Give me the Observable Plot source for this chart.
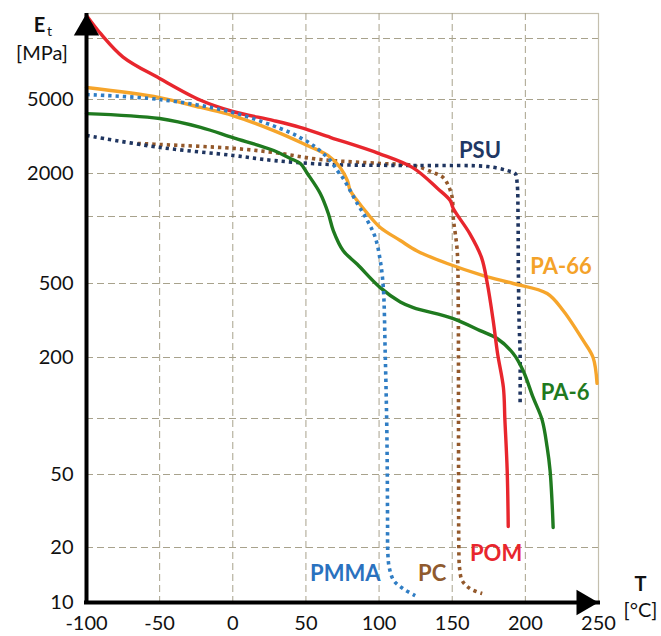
<!DOCTYPE html>
<html><head><meta charset="utf-8">
<script src="https://cdn.jsdelivr.net/npm/d3@7"></script>
<script src="https://cdn.jsdelivr.net/npm/@observablehq/plot@0.6"></script>
<style>body{margin:0;background:#fff} svg{display:block}</style>
</head><body><div id="chart"></div>
<script>
// Temperature (°C) and tensile modulus Et (MPa)
const pomT = [-100, -90, -75, -50, -22, 0, 28, 46, 67, 100, 123, 140, 148.6, 150.7, 162, 170, 174, 178, 181, 185, 186, 187.6, 188.3];
const pomE = [13000, 10500, 8100, 6350, 4950, 4310, 3850, 3540, 3120, 2560, 2150, 1570, 1294, 1138, 838, 655, 500, 316, 210, 142, 99, 52, 26];
const pa66T = [-100, -50, -22, 0, 28, 48, 65, 73.5, 78.3, 80.3, 85, 92, 100.8, 114.5, 126, 146.6, 171.2, 191.7, 214.9, 225.8, 239.5, 246.3, 249];
const pa66E = [5730, 5110, 4530, 4100, 3400, 2900, 2500, 2150, 1786, 1520, 1294, 1050, 893, 780, 700, 615, 543, 500, 442, 358, 247, 200, 149];
const pa6T = [-100, -50, -22, 0, 28, 39.3, 46.2, 51, 59.8, 65.3, 68.7, 75.5, 85.1, 100.8, 114.5, 123.4, 150.7, 169.1, 180.7, 191.7, 198.5, 205.3, 211.5, 214.9, 216.9, 218.3, 219];
const pa6E = [4200, 3950, 3540, 3120, 2660, 2410, 2265, 2000, 1449, 1050, 865, 702, 610, 475, 398, 371, 324, 279, 253, 210, 172, 127, 98, 70, 52.5, 34.7, 25.7];
const pmmaT = [-100, -50, 0, 39.3, 46, 55, 66.7, 71.4, 75.5, 85.1, 92, 97.4, 100.8, 102.9, 104.2, 105.2, 105.6, 105.8, 106, 107, 110, 116.5, 124.7];
const pmmaE = [5290, 5000, 4260, 3320, 3120, 2830, 2350, 2075, 1846, 1233, 960, 805, 634, 475, 210, 98, 52.5, 28, 18.5, 15.5, 13.2, 11.9, 10.9];
const pcT = [-65, -49.5, 0.4, 27.7, 59.8, 100.8, 123.4, 137, 143.8, 147.3, 150, 150.7, 153.4, 154.1, 154.3, 154.4, 154.5, 155, 156.8, 162.3, 170.5];
const pcE = [2900, 2865, 2730, 2595, 2380, 2265, 2208, 2025, 1874, 1648, 1358, 990, 703, 405, 98, 28, 21, 15.5, 13.2, 11.9, 11.2];
const psuT = [-100, -49.5, 0.4, 27.7, 66.7, 128, 174, 187.6, 193, 194.4, 195, 195.2, 195.7, 196.4, 196.4];
const psuE = [3200, 2760, 2500, 2350, 2235, 2208, 2180, 2075, 2000, 1703, 990, 590, 316, 210, 116];

// series labels
const labelNames = ["PSU", "PA-66", "PA-6", "POM", "PC", "PMMA"];
const labelT = [169, 224.4, 227.2, 180, 136.3, 76.9];
const labelE = [2660, 596, 133, 18.5, 14.4, 14.4];
const labelColors = ["#1f3864", "#f4a229", "#1f7a1f", "#e8262d", "#8f5a2e", "#2a72bf"];

// ticks and grid
const xTicks = [-100, -50, 0, 50, 100, 150, 200, 250];
const yTicks = [10, 20, 50, 200, 500, 2000, 5000];
const gridT = [-50, 0, 50, 100, 150, 200];
const gridE = [20, 50, 100, 200, 500, 1000, 2000, 5000, 10000];

const rows = (T, E) => T.map((t, i) => ({T: t, E: E[i]}));

const solid = (T, E, color) => Plot.line(rows(T, E), {x: "T", y: "E", stroke: color, strokeWidth: 3.4, curve: "catmull-rom"});
const dotted = (T, E, color) => Plot.line(rows(T, E), {x: "T", y: "E", stroke: color, strokeWidth: 3.6, strokeDasharray: "3.3,4", strokeLinecap: "butt", curve: "catmull-rom"});

const labelMarks = labelNames.map((n, i) => Plot.text([{T: labelT[i], E: labelE[i], n}], {x: "T", y: "E", text: "n", fill: labelColors[i], fontSize: 22, fontWeight: "bold"}));

const chart = Plot.plot({
  width: 661,
  height: 636,
  marginLeft: 86,
  marginRight: 63,
  marginTop: 13,
  marginBottom: 34,
  style: {fontFamily: "Lato, 'Open Sans', sans-serif", color: "#111", background: "#fff"},
  x: {domain: [-100, 250]},
  y: {type: "log", axis: null, domain: [10, 20, 50, 100, 200, 500, 1000, 2000, 5000, 10000], range: [602, 547, 474, 418, 357, 283, 216, 173, 99, 38]},
  marks: [
    Plot.frame({stroke: "#c4bfae", strokeWidth: 1.2}),
    Plot.ruleY(gridE, {stroke: "#a8a28c", strokeWidth: 1, strokeDasharray: "7,4"}),
    Plot.ruleX(gridT, {stroke: "#a8a28c", strokeWidth: 1, strokeDasharray: "7,4"}),
    Plot.text(yTicks, {y: d => d, frameAnchor: "left", dx: -13, textAnchor: "end", lineAnchor: "middle", text: d => String(d), fontSize: 20, fill: "#111"}),
    Plot.axisX({ticks: xTicks, tickSize: 0, tickPadding: 13, fontSize: 20, tickFormat: d => String(d), label: null, fill: "#111"}),
    dotted(pcT, pcE, "#93582a"),
    dotted(psuT, psuE, "#1f3560"),
    solid(pa66T, pa66E, "#f6a52b"),
    solid(pa6T, pa6E, "#1f7a1f"),
    solid(pomT, pomE, "#e8262d"),
    dotted(pmmaT, pmmaE, "#2f7dc4"),
    Plot.ruleX([-100], {stroke: "#000", strokeWidth: 4}),
    Plot.ruleY([10], {stroke: "#000", strokeWidth: 4, strokeLinecap: "square"}),
    Plot.dot([0], {frameAnchor: "top-left", symbol: "triangle", r: 9.4, dy: 14.7, fill: "#000", stroke: "none"}),
    Plot.dot([0], {frameAnchor: "bottom-right", symbol: "triangle", r: 9.4, dx: -14.7, rotate: 90, fill: "#000", stroke: "none"}),
    ...labelMarks,
    Plot.text(["E"], {frameAnchor: "top-left", dx: -47, dy: 12, textAnchor: "middle", lineAnchor: "middle", fontSize: 20, fontWeight: "bold", fill: "#111"}),
    Plot.text(["t"], {frameAnchor: "top-left", dx: -37, dy: 18, textAnchor: "middle", lineAnchor: "middle", fontSize: 14, fill: "#111"}),
    Plot.text(["[MPa]"], {frameAnchor: "top-left", dx: -44.5, dy: 40, textAnchor: "middle", lineAnchor: "middle", fontSize: 20, fill: "#111"}),
    Plot.text(["T"], {frameAnchor: "bottom-right", dx: 42, dy: -18, textAnchor: "middle", lineAnchor: "middle", fontSize: 20, fontWeight: "bold", fill: "#111"}),
    Plot.text(["[°C]"], {frameAnchor: "bottom-right", dx: 42, dy: 8, textAnchor: "middle", lineAnchor: "middle", fontSize: 20, fill: "#111"})
  ]
});
document.getElementById("chart").appendChild(chart);
</script>
</body></html>
